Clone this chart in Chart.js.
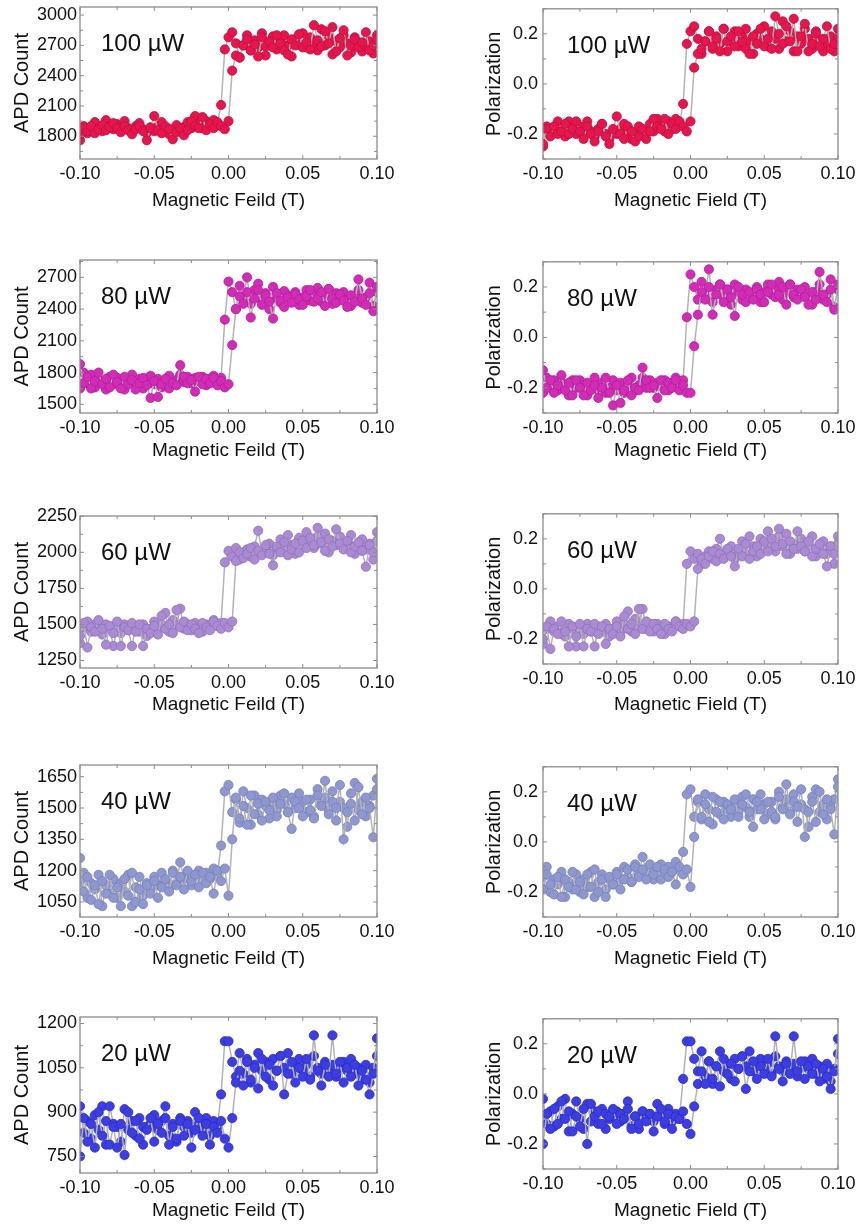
<!DOCTYPE html>
<html>
<head>
<meta charset="utf-8">
<script src="https://cdn.jsdelivr.net/npm/chart.js@4.4.0/dist/chart.umd.min.js"></script>
<style>
  body { margin: 0; background: #fff; width: 860px; height: 1231px; position: relative; overflow: hidden; }
  canvas { position: absolute; }
</style>
</head>
<body>
<script>
// magnetic field sweep points (T)
const field = [
  -0.1,-0.0975,-0.095,-0.0925,-0.09,-0.0875,-0.085,-0.0825,-0.08,-0.0775,
  -0.075,-0.0725,-0.07,-0.0675,-0.065,-0.0625,-0.06,-0.0575,-0.055,-0.0525,
  -0.05,-0.0475,-0.045,-0.0425,-0.04,-0.0375,-0.035,-0.0325,-0.03,-0.0275,
  -0.025,-0.0225,-0.02,-0.0175,-0.015,-0.0125,-0.01,-0.0075,-0.005,-0.0025,
  0,0.0025,0.005,0.0075,0.01,0.0125,0.015,0.0175,0.02,0.0225,0.025,
  0.0275,0.03,0.0325,0.035,0.0375,0.04,0.0425,0.045,0.0475,0.05,
  0.0525,0.055,0.0575,0.06,0.0625,0.065,0.0675,0.07,0.0725,0.075,
  0.0775,0.08,0.0825,0.085,0.0875,0.09,0.0925,0.095,0.0975,0.1
];
const fieldTicks = [-0.1, -0.05, 0, 0.05, 0.1];

// 100 uW
const apd100Up = [
  1820,1880,1850,1900,1830,1870,1910,1860,1890,1930,
  1880,1840,1900,1860,1820,1870,1900,1850,1760,1880,
  2000,1860,1830,1900,1870,1770,1840,1880,1810,1860,
  1950,1900,1880,1990,1860,1920,1880,1940,1900,1870,
  1950,2450,2600,2580,2700,2760,2650,2710,2590,2780,2690,
  2740,2680,2800,2720,2650,2610,2760,2700,2810,2680,
  2730,2660,2900,2750,2690,2840,2720,2880,2640,2770,
  2850,2600,2700,2760,2680,2730,2830,2650,2700,2760
];
const apd100Down = [
  1760,1900,1830,1870,1940,1880,1850,1960,1900,1870,
  1920,1860,1950,1880,1840,1900,1930,1870,1830,1890,
  1850,1900,1940,1880,1820,1870,1910,1850,1890,1940,
  1880,2000,1920,1880,1950,1900,1960,1930,2110,2660,
  2780,2830,2720,2580,2700,2800,2650,2750,2680,2820,2600,
  2700,2790,2660,2740,2800,2700,2590,2760,2710,2820,
  2680,2780,2720,2650,2860,2700,2790,2610,2740,2680,
  2800,2720,2630,2780,2700,2640,2690,2740,2620,2800
];
const pol100Up = [
  -0.24,-0.18,-0.21,-0.17,-0.20,-0.19,-0.16,-0.20,-0.18,-0.15,
  -0.19,-0.22,-0.17,-0.20,-0.23,-0.19,-0.16,-0.21,-0.24,-0.18,
  -0.13,-0.20,-0.22,-0.17,-0.19,-0.23,-0.21,-0.18,-0.22,-0.19,
  -0.14,-0.17,-0.18,-0.14,-0.20,-0.16,-0.18,-0.15,-0.17,-0.19,
  -0.15,0.065,0.12,0.14,0.17,0.21,0.15,0.18,0.13,0.22,0.17,
  0.19,0.15,0.21,0.17,0.14,0.12,0.19,0.16,0.22,0.15,
  0.18,0.14,0.27,0.20,0.16,0.23,0.17,0.26,0.13,0.19,
  0.24,0.13,0.16,0.20,0.15,0.18,0.23,0.14,0.16,0.19
];
const pol100Down = [
  -0.25,-0.17,-0.20,-0.18,-0.15,-0.19,-0.21,-0.15,-0.18,-0.20,
  -0.17,-0.20,-0.15,-0.19,-0.21,-0.18,-0.16,-0.20,-0.22,-0.19,
  -0.20,-0.18,-0.16,-0.19,-0.22,-0.20,-0.17,-0.20,-0.19,-0.16,
  -0.19,-0.14,-0.17,-0.19,-0.15,-0.18,-0.14,-0.16,-0.08,0.16,
  0.21,0.23,0.18,0.12,0.17,0.21,0.14,0.19,0.16,0.22,0.13,
  0.17,0.21,0.15,0.19,0.22,0.17,0.12,0.20,0.18,0.23,
  0.15,0.21,0.18,0.14,0.25,0.17,0.21,0.13,0.19,0.16,
  0.22,0.18,0.14,0.21,0.17,0.13,0.16,0.19,0.13,0.22
];

// 80 uW
const apd80Up = [
  1880,1700,1760,1650,1720,1800,1690,1740,1660,1780,
  1710,1650,1760,1690,1730,1640,1700,1750,1680,1560,
  1720,1570,1690,1740,1650,1700,1680,1870,1760,1700,
  1730,1620,1760,1690,1740,1700,1750,1680,1720,1660,
  1690,2060,2400,2520,2450,2560,2320,2500,2580,2440,2530,
  2470,2310,2550,2480,2420,2510,2460,2540,2490,2440,
  2520,2580,2470,2500,2560,2430,2590,2500,2460,2540,
  2480,2420,2530,2470,2680,2500,2440,2550,2380,2610
];
const apd80Down = [
  1650,1800,1700,1780,1660,1740,1710,1640,1760,1690,
  1750,1700,1640,1720,1780,1690,1740,1650,1710,1770,
  1690,1740,1660,1720,1770,1690,1730,1780,1710,1760,
  1700,1750,1720,1760,1680,1740,1770,1730,1750,2300,
  2660,2560,2400,2620,2500,2700,2450,2580,2640,2480,2550,
  2400,2610,2500,2460,2570,2530,2490,2560,2440,2510,
  2580,2480,2540,2600,2470,2520,2590,2450,2550,2510,
  2560,2490,2430,2520,2580,2460,2510,2650,2430,2560
];
const pol80Up = [
  -0.13,-0.20,-0.17,-0.22,-0.19,-0.15,-0.21,-0.18,-0.23,-0.17,
  -0.20,-0.23,-0.18,-0.21,-0.19,-0.24,-0.20,-0.16,-0.22,-0.27,
  -0.19,-0.26,-0.21,-0.17,-0.23,-0.20,-0.21,-0.12,-0.17,-0.20,
  -0.19,-0.24,-0.17,-0.21,-0.18,-0.20,-0.17,-0.21,-0.19,-0.22,
  -0.22,-0.035,0.09,0.18,0.15,0.20,0.09,0.17,0.21,0.14,0.19,
  0.16,0.085,0.20,0.17,0.14,0.18,0.15,0.19,0.17,0.14,
  0.18,0.21,0.16,0.17,0.20,0.13,0.21,0.17,0.15,0.19,
  0.16,0.13,0.18,0.15,0.26,0.17,0.14,0.19,0.11,0.21
];
const pol80Down = [
  -0.22,-0.16,-0.20,-0.17,-0.21,-0.18,-0.19,-0.23,-0.17,-0.20,
  -0.17,-0.20,-0.23,-0.19,-0.16,-0.21,-0.18,-0.22,-0.20,-0.17,
  -0.21,-0.18,-0.22,-0.19,-0.16,-0.21,-0.19,-0.16,-0.20,-0.17,
  -0.20,-0.18,-0.19,-0.17,-0.21,-0.18,-0.16,-0.19,-0.17,0.08,
  0.25,0.20,0.15,0.22,0.17,0.27,0.14,0.19,0.21,0.16,0.19,
  0.13,0.21,0.18,0.15,0.19,0.17,0.16,0.20,0.14,0.18,
  0.21,0.17,0.19,0.22,0.15,0.18,0.21,0.16,0.19,0.17,
  0.20,0.16,0.13,0.18,0.21,0.15,0.17,0.23,0.12,0.19
];

// 60 uW
const apd60Up = [
  1420,1510,1340,1480,1450,1530,1470,1360,1490,1440,
  1520,1350,1480,1460,1510,1450,1500,1350,1470,1440,
  1490,1430,1560,1470,1500,1440,1600,1480,1520,1460,
  1500,1470,1440,1510,1480,1460,1520,1490,1470,1510,
  1480,1520,1940,2000,1960,1990,2030,1950,2010,1980,2050,
  1990,1910,2040,2000,2070,1980,2020,2060,2000,2080,
  2030,2100,2050,2170,2070,2010,2090,2040,2160,2060,
  2020,2080,2000,2040,2070,2010,1900,2050,2000,2140
];
const apd60Down = [
  1370,1480,1520,1450,1500,1460,1430,1500,1470,1350,
  1480,1440,1500,1460,1350,1490,1450,1500,1420,1470,
  1520,1460,1500,1580,1450,1530,1490,1610,1470,1500,
  1460,1510,1480,1450,1500,1470,1530,1490,1510,1930,
  2010,1970,2030,1950,2000,2020,1970,2040,2150,1990,2010,
  2060,1980,2030,2090,2010,2120,2050,1990,2100,2060,
  2140,2080,2030,2110,2060,2130,2000,2080,2050,2110,
  2040,2070,2120,1990,2050,2090,2020,2060,1950,2080
];
const pol60Up = [
  -0.20,-0.15,-0.24,-0.16,-0.18,-0.13,-0.17,-0.23,-0.15,-0.19,
  -0.14,-0.23,-0.16,-0.17,-0.14,-0.18,-0.15,-0.22,-0.16,-0.18,
  -0.15,-0.19,-0.11,-0.16,-0.14,-0.18,-0.08,-0.16,-0.13,-0.17,
  -0.14,-0.16,-0.18,-0.14,-0.16,-0.17,-0.13,-0.15,-0.16,-0.14,
  -0.15,-0.13,0.08,0.12,0.10,0.13,0.15,0.11,0.14,0.12,0.16,
  0.13,0.09,0.16,0.13,0.18,0.12,0.15,0.17,0.14,0.19,
  0.15,0.20,0.17,0.24,0.18,0.14,0.19,0.16,0.23,0.17,
  0.15,0.19,0.13,0.16,0.18,0.14,0.09,0.17,0.14,0.21
];
const pol60Down = [
  -0.22,-0.16,-0.13,-0.17,-0.15,-0.18,-0.19,-0.14,-0.16,-0.23,
  -0.16,-0.18,-0.14,-0.17,-0.23,-0.15,-0.17,-0.14,-0.19,-0.16,
  -0.13,-0.17,-0.14,-0.09,-0.17,-0.12,-0.15,-0.08,-0.16,-0.14,
  -0.17,-0.14,-0.16,-0.18,-0.15,-0.16,-0.13,-0.15,-0.14,0.10,
  0.15,0.12,0.14,0.10,0.13,0.15,0.12,0.16,0.20,0.13,0.14,
  0.17,0.12,0.15,0.19,0.14,0.21,0.17,0.13,0.20,0.17,
  0.23,0.18,0.15,0.21,0.17,0.22,0.14,0.18,0.16,0.20,
  0.15,0.17,0.21,0.13,0.16,0.19,0.14,0.17,0.10,0.18
];

// 40 uW
const apd40Up = [
  1260,1100,1170,1060,1130,1040,1150,1090,1180,1070,
  1120,1030,1160,1080,1190,1050,1110,1040,1130,1090,
  1150,1070,1120,1160,1100,1190,1130,1170,1110,1200,
  1150,1180,1120,1190,1140,1170,1090,1200,1150,1210,
  1080,1350,1550,1450,1510,1420,1560,1470,1520,1440,1530,
  1490,1550,1460,1520,1570,1480,1400,1530,1500,1460,
  1540,1490,1450,1560,1510,1630,1470,1530,1500,1610,
  1350,1480,1520,1440,1600,1470,1550,1500,1360,1590
];
const apd40Down = [
  1150,1190,1070,1140,1110,1180,1030,1130,1090,1160,
  1070,1140,1100,1180,1030,1120,1170,1080,1140,1110,
  1170,1130,1190,1150,1120,1200,1140,1240,1160,1190,
  1130,1180,1200,1150,1190,1160,1210,1180,1320,1580,
  1610,1480,1540,1430,1580,1500,1420,1560,1470,1540,1510,
  1450,1530,1490,1560,1520,1480,1550,1500,1570,1530,
  1480,1540,1460,1590,1520,1550,1490,1580,1440,1530,
  1500,1410,1570,1620,1490,1530,1460,1510,1560,1640
];
const pol40Up = [
  -0.19,-0.13,-0.17,-0.21,-0.14,-0.22,-0.15,-0.18,-0.12,-0.19,
  -0.16,-0.21,-0.13,-0.18,-0.11,-0.20,-0.15,-0.22,-0.14,-0.17,
  -0.13,-0.19,-0.15,-0.11,-0.16,-0.10,-0.14,-0.11,-0.15,-0.09,
  -0.13,-0.10,-0.15,-0.11,-0.14,-0.12,-0.17,-0.10,-0.13,-0.11,
  -0.18,0.02,0.17,0.10,0.15,0.08,0.18,0.12,0.16,0.09,0.15,
  0.13,0.17,0.10,0.15,0.19,0.12,0.06,0.16,0.13,0.09,
  0.16,0.12,0.10,0.18,0.13,0.23,0.11,0.16,0.14,0.21,
  0.02,0.12,0.16,0.08,0.20,0.11,0.17,0.13,0.03,0.22
];
const pol40Down = [
  -0.14,-0.10,-0.20,-0.15,-0.17,-0.12,-0.22,-0.16,-0.19,-0.13,
  -0.20,-0.15,-0.18,-0.12,-0.22,-0.16,-0.13,-0.19,-0.15,-0.17,
  -0.12,-0.15,-0.10,-0.14,-0.16,-0.09,-0.13,-0.06,-0.12,-0.10,
  -0.15,-0.11,-0.09,-0.13,-0.10,-0.12,-0.08,-0.11,-0.04,0.19,
  0.21,0.10,0.16,0.09,0.19,0.13,0.07,0.17,0.11,0.16,0.13,
  0.10,0.15,0.12,0.18,0.14,0.10,0.17,0.13,0.19,0.15,
  0.11,0.16,0.09,0.20,0.14,0.17,0.12,0.19,0.08,0.15,
  0.13,0.06,0.18,0.21,0.12,0.15,0.09,0.14,0.17,0.25
];

// 20 uW
const apd20Up = [
  750,880,800,860,780,900,820,870,790,850,
  780,860,755,900,830,870,810,850,840,880,
  800,860,830,880,790,850,810,870,820,860,
  780,840,880,820,860,790,850,830,870,810,
  780,880,1000,1040,990,1070,1010,1050,980,1080,1020,
  1060,990,1040,1090,960,1030,1070,1000,1050,1020,
  1080,1010,1160,1040,990,1060,1020,1160,1030,1070,
  1000,1050,1020,1060,990,1040,1010,960,1030,1150
];
const apd20Down = [
  920,830,870,810,890,840,920,790,920,860,
  850,800,910,840,870,820,880,790,850,860,
  890,840,870,920,820,860,800,880,850,870,
  830,900,860,840,880,820,870,850,960,1140,
  1140,1070,1020,1100,1030,1080,1000,1060,1100,1040,1070,
  1010,1080,1040,1090,1050,1100,1030,1060,1080,1040,
  1060,1020,1090,1050,1030,1070,1040,1060,1020,1050,
  1070,1040,1080,1030,1050,1010,1060,1000,1050,1090
];
const pol20Up = [
  -0.20,-0.08,-0.14,-0.06,-0.12,-0.03,-0.10,-0.07,-0.15,-0.09,
  -0.13,-0.06,-0.20,-0.04,-0.09,-0.07,-0.12,-0.08,-0.09,-0.06,
  -0.12,-0.08,-0.10,-0.06,-0.14,-0.09,-0.12,-0.07,-0.11,-0.08,
  -0.15,-0.09,-0.06,-0.11,-0.08,-0.14,-0.09,-0.10,-0.07,-0.12,
  -0.16,-0.05,0.04,0.09,0.04,0.13,0.06,0.11,0.03,0.14,0.08,
  0.12,0.05,0.10,0.15,0.02,0.09,0.13,0.06,0.11,0.08,
  0.14,0.07,0.23,0.10,0.05,0.12,0.08,0.23,0.09,0.13,
  0.06,0.11,0.08,0.12,0.05,0.10,0.07,0.02,0.09,0.22
];
const pol20Down = [
  -0.02,-0.12,-0.07,-0.13,-0.05,-0.10,-0.02,-0.15,-0.08,-0.03,
  -0.10,-0.14,-0.04,-0.11,-0.07,-0.12,-0.06,-0.14,-0.10,-0.09,
  -0.07,-0.11,-0.08,-0.03,-0.13,-0.09,-0.14,-0.07,-0.10,-0.08,
  -0.11,-0.04,-0.09,-0.12,-0.06,-0.11,-0.08,-0.10,0.06,0.21,
  0.21,0.14,0.09,0.17,0.07,0.13,0.04,0.11,0.17,0.09,0.12,
  0.06,0.14,0.10,0.15,0.11,0.17,0.09,0.12,0.14,0.10,
  0.12,0.08,0.15,0.11,0.09,0.13,0.10,0.12,0.07,0.11,
  0.13,0.10,0.14,0.08,0.11,0.06,0.12,0.05,0.10,0.16
];

// tick labels
const apdTicks100 = [1800, 2100, 2400, 2700, 3000];
const apdTicks80 = [1500, 1800, 2100, 2400, 2700];
const apdTicks60 = [1250, 1500, 1750, 2000, 2250];
const apdTicks40 = [1050, 1200, 1350, 1500, 1650];
const apdTicks20 = [750, 900, 1050, 1200];
const polTicks = [-0.2, 0, 0.2];

const powerLabels = ['100 µW', '80 µW', '60 µW', '40 µW', '20 µW'];

// styles
const pointColors = ['#e5154d', '#d22cb6', '#a98ad3', '#8f97cf', '#3d3ee2'];
const pointEdges = ['#c20f3f', '#b0209a', '#8f72bb', '#7680ba', '#2b2cc2'];
const lineGrey = '#b3b3b3';
const frameGrey = '#8c8c8c';
const fontFamily = '"Liberation Sans", Arial, sans-serif';

// plot box geometry per panel (page pixels)
const layoutLeft = [
  { top: 7, bottom: 159, title: 201, min: 1575, max: 3080 },
  { top: 260, bottom: 413, title: 451, min: 1418, max: 2864 },
  { top: 516, bottom: 668, title: 705, min: 1198, max: 2252 },
  { top: 765, bottom: 917, title: 959, min: 978, max: 1706 },
  { top: 1017, bottom: 1173, title: 1211, min: 694, max: 1222 }
];
const layoutRight = [
  { top: 7, bottom: 159, title: 201 },
  { top: 260, bottom: 413, title: 451 },
  { top: 512, bottom: 664, title: 705 },
  { top: 765, bottom: 917, title: 959 },
  { top: 1017, bottom: 1169, title: 1211 }
];

const apdSeries = [[apd100Up, apd100Down], [apd80Up, apd80Down], [apd60Up, apd60Down], [apd40Up, apd40Down], [apd20Up, apd20Down]];
const polSeries = [[pol100Up, pol100Down], [pol80Up, pol80Down], [pol60Up, pol60Down], [pol40Up, pol40Down], [pol20Up, pol20Down]];
const apdTicks = [apdTicks100, apdTicks80, apdTicks60, apdTicks40, apdTicks20];

[...apdSeries, ...polSeries].forEach(pair => pair.forEach(arr => {
  if (arr.length !== field.length) throw new Error('length mismatch ' + arr.length);
}));

const framePlugin = {
  id: 'frame',
  afterDatasetsDraw(chart) {
    const { ctx, chartArea: a, scales: { x, y } } = chart;
    const o = chart.options.plugins.frame;
    ctx.save();
    ctx.strokeStyle = frameGrey;
    ctx.lineWidth = 1.3;
    ctx.strokeRect(a.left, a.top, a.right - a.left, a.bottom - a.top);
    ctx.lineWidth = 1;
    const xs = x.ticks.map(t => t.value);
    const ys = y.ticks.map(t => t.value);
    const tick = (vals, minorLen, majorLen, horiz) => {
      const sc = horiz ? x : y;
      const all = [];
      vals.forEach((v, i) => {
        all.push([v, majorLen]);
        if (i < vals.length - 1) all.push([(v + vals[i + 1]) / 2, minorLen]);
      });
      if (!horiz) {
        const step = vals[1] - vals[0];
        all.push([vals[0] - step / 2, minorLen]);
        all.push([vals[vals.length - 1] + step / 2, minorLen]);
      }
      all.forEach(([v, len]) => {
        const p = sc.getPixelForValue(v);
        ctx.beginPath();
        if (horiz) {
          if (p < a.left - 0.5 || p > a.right + 0.5) return;
          ctx.moveTo(p, a.bottom); ctx.lineTo(p, a.bottom - len);
          ctx.moveTo(p, a.top); ctx.lineTo(p, a.top + len);
        } else {
          if (p < a.top - 0.5 || p > a.bottom + 0.5) return;
          ctx.moveTo(a.left, p); ctx.lineTo(a.left + len, p);
          ctx.moveTo(a.right, p); ctx.lineTo(a.right - len, p);
        }
        ctx.stroke();
      });
    };
    tick(xs, 3, 4, true);
    tick(ys, 3, 4, false);
    ctx.fillStyle = '#111';
    ctx.font = '24px ' + fontFamily;
    ctx.textBaseline = 'alphabetic';
    ctx.fillText(o.label, a.left + o.labelDx, a.top + 44);
    ctx.restore();
  }
};

function makePanel(side, row) {
  const isLeft = side === 'left';
  const g = isLeft ? layoutLeft[row] : layoutRight[row];
  const canvasTop = g.top - 14;
  const plotH = g.bottom - g.top;
  const h = Math.round(g.title - canvasTop + 11.4);
  const c = document.createElement('canvas');
  c.width = 430;
  c.height = h;
  c.style.left = (isLeft ? 0 : 430) + 'px';
  c.style.top = canvasTop + 'px';
  document.body.appendChild(c);

  const pair = isLeft ? apdSeries[row] : polSeries[row];
  const yTicks = isLeft ? apdTicks[row] : polTicks;
  const datasets = pair.map(vals => ({
    data: field.map((f, i) => ({ x: f, y: vals[i] })),
    borderColor: lineGrey,
    borderWidth: 1.5,
    pointRadius: 4.6,
    pointBackgroundColor: pointColors[row],
    pointBorderColor: pointEdges[row],
    pointBorderWidth: 0.8,
    tension: 0
  }));

  new Chart(c, {
    type: 'line',
    data: { datasets },
    plugins: [framePlugin],
    options: {
      responsive: false,
      animation: false,
      devicePixelRatio: 1,
      layout: { padding: { top: 14, bottom: 0, left: isLeft ? 0 : 42, right: isLeft ? 53 : 22 } },
      plugins: {
        legend: { display: false },
        tooltip: { enabled: false },
        frame: { label: powerLabels[row], labelDx: isLeft ? 21 : 24 }
      },
      scales: {
        x: {
          type: 'linear',
          min: -0.1,
          max: 0.1,
          grid: { display: false, drawTicks: false },
          border: { display: false },
          afterBuildTicks: s => { s.ticks = fieldTicks.map(v => ({ value: v })); },
          afterFit: s => { s.height = h - 14 - plotH; },
          ticks: {
            color: '#111',
            padding: 4,
            maxRotation: 0,
            font: { family: fontFamily, size: 18 },
            callback: v => v.toFixed(2)
          },
          title: {
            display: true,
            text: isLeft ? 'Magnetic Feild (T)' : 'Magnetic Field (T)',
            color: '#111',
            padding: { top: 0, bottom: 0 },
            font: { family: fontFamily, size: 19 }
          }
        },
        y: {
          type: 'linear',
          min: isLeft ? g.min : -0.3,
          max: isLeft ? g.max : 0.3,
          grid: { display: false, drawTicks: false },
          border: { display: false },
          afterBuildTicks: s => { s.ticks = yTicks.map(v => ({ value: v })); },
          afterFit: s => { s.width = isLeft ? 80 : 71; },
          ticks: {
            color: '#111',
            padding: isLeft ? 3 : 5,
            font: { family: fontFamily, size: 18 },
            callback: v => isLeft ? String(v) : v.toFixed(1)
          },
          title: {
            display: true,
            text: isLeft ? 'APD Count' : 'Polarization',
            color: '#111',
            padding: { top: 10, bottom: 0 },
            font: { family: fontFamily, size: 20 }
          }
        }
      }
    }
  });
}

for (let r = 0; r < 5; r++) {
  makePanel('left', r);
  makePanel('right', r);
}
</script>
</body>
</html>
